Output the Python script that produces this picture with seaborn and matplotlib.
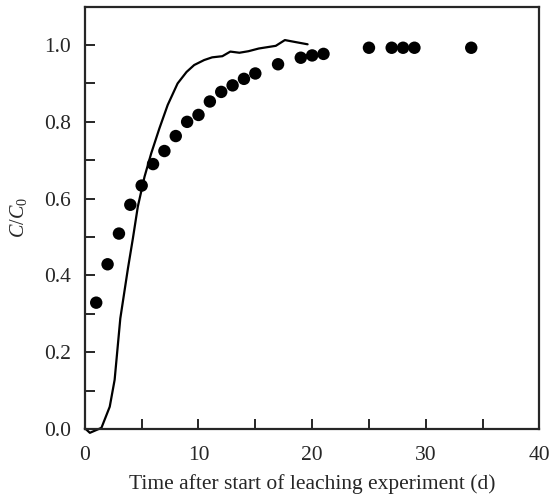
import matplotlib
matplotlib.use('Agg')
import matplotlib.pyplot as plt
import seaborn as sns
import pandas as pd
from matplotlib.ticker import MultipleLocator

# measured data (points)
obs_time = [1, 2, 3, 4, 5, 6, 7, 8, 9, 10, 11, 12, 13, 14, 15, 17, 19, 20, 21,
            25, 27, 28, 29, 34]
obs_conc = [0.329, 0.429, 0.509, 0.584, 0.634, 0.690, 0.724, 0.763, 0.800, 0.818,
            0.853, 0.878, 0.895, 0.912, 0.926, 0.950, 0.967, 0.973, 0.977,
            0.993, 0.993, 0.993, 0.993, 0.993]

# simulated curve (line)
sim_time = [0, 0.44, 1.46, 2.19, 2.62, 3.12, 3.79, 4.23, 4.66, 5.25, 5.84, 6.56,
            7.29, 8.16, 8.95, 9.62, 10.5, 11.2, 12.1, 12.8, 13.6, 14.4, 15.3,
            16.8, 17.6, 18.5, 19.6]
sim_conc = [0.002, -0.010, 0.003, 0.058, 0.128, 0.288, 0.418, 0.497, 0.579, 0.657,
            0.718, 0.783, 0.844, 0.900, 0.930, 0.948, 0.961, 0.968, 0.971, 0.983,
            0.980, 0.984, 0.991, 0.998, 1.013, 1.008, 1.002]

obs = pd.DataFrame({'t': obs_time, 'c': obs_conc})
sim = pd.DataFrame({'t': sim_time, 'c': sim_conc})

sns.set_style('ticks')
plt.rcParams['font.family'] = ['Liberation Serif', 'DejaVu Serif']
plt.rcParams['mathtext.fontset'] = 'custom'
plt.rcParams['mathtext.rm'] = 'Liberation Serif'
plt.rcParams['mathtext.it'] = 'Liberation Serif:italic'

fig = plt.figure(figsize=(5.51, 4.98), dpi=100)
ax = fig.add_axes([0.154, 0.1386, 0.825, 0.848])

# 模拟曲线
sns.lineplot(data=sim, x='t', y='c', sort=False, estimator=None, color='black',
             lw=1.6, clip_on=False, ax=ax)
# 实测点
sns.scatterplot(data=obs, x='t', y='c', color='black', s=80, edgecolor='none',
                clip_on=False, ax=ax, zorder=3)

ax.set_xlim(0, 40)
ax.set_ylim(0, 1.1)
ax.xaxis.set_major_locator(MultipleLocator(10))
ax.xaxis.set_minor_locator(MultipleLocator(5))
ax.yaxis.set_major_locator(MultipleLocator(0.2))
ax.yaxis.set_minor_locator(MultipleLocator(0.1))
ax.yaxis.set_major_formatter(matplotlib.ticker.FormatStrFormatter('%.1f'))
ax.tick_params(which='both', direction='in', length=7, width=1.4, labelsize=15.5,
               top=False, right=False)
ax.tick_params(axis='y', pad=10)
ax.tick_params(axis='x', pad=12)
for s in ax.spines.values():
    s.set_linewidth(1.6)

ax.set_xlabel('Time after start of leaching experiment (d)', fontsize=15.5, labelpad=7)
ax.set_ylabel('$C/C_0$', fontsize=14.5, labelpad=11)

fig.savefig('out.png', dpi=100)
